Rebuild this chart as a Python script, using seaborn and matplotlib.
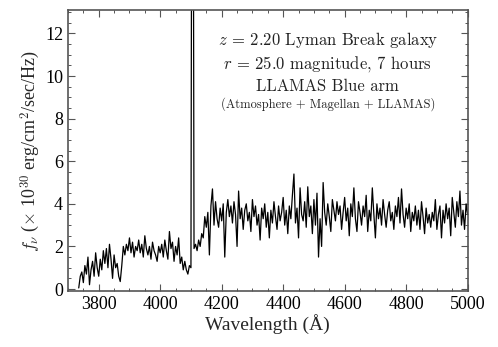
import numpy as np
import pandas as pd
import matplotlib
matplotlib.use("Agg")
import matplotlib.pyplot as plt
from matplotlib.ticker import MultipleLocator
import seaborn as sns

# Wavelength grid (Angstrom): start and sampling step of the spectrum
WAVE_START = 3735
WAVE_STEP = 5

# Flux values (x 10^30 erg/cm^2/sec/Hz), one row per 50 A
flux = [
    0.05, 0.6, 0.8, 0.3, 1.1, 0.7, 1.5, 0.2, 0.9, 1.3,
    0.6, 1.7, 1.0, 0.6, 1.4, 0.9, 1.8, 1.2, 1.9, 1.0,
    2.1, 1.4, 0.5, 1.6, 1.0, 1.2, 0.6, 0.35, 1.1, 2.0,
    1.6, 2.1, 1.8, 2.4, 1.7, 2.2, 1.5, 2.0, 1.8, 2.3,
    1.7, 2.1, 1.5, 2.5, 1.9, 1.6, 2.0, 1.4, 2.2, 1.8,
    1.6, 1.3, 2.0, 1.7, 2.1, 1.5, 2.3, 1.8, 1.4, 2.7,
    1.9, 2.2, 1.3, 2.0, 1.6, 2.4, 1.2, 1.5, 0.9, 1.3,
    0.9, 0.7, 1.1, 1.0, 40.0, 1.9, 2.1, 1.8, 2.3, 2.0,
    2.6, 2.4, 3.4, 2.9, 3.6, 1.6, 3.9, 4.7, 3.0, 4.1,
    3.3, 2.9, 3.8, 3.2, 4.0, 1.5, 3.6, 4.2, 3.4, 3.9,
    3.1, 4.1, 3.5, 2.0, 4.6, 3.3, 3.8, 2.8, 3.7, 4.0,
    3.2, 3.6, 2.7, 4.2, 3.4, 3.9, 3.0, 3.5, 2.3, 3.8,
    3.3, 4.0, 2.9, 3.6, 2.4, 3.7, 3.1, 4.1, 3.4, 2.8,
    3.9, 3.2, 3.6, 4.3, 3.0, 3.7, 2.6, 3.9, 3.3, 4.4,
    5.4, 3.1, 3.8, 2.4, 4.75, 3.5, 3.2, 4.1, 2.9, 4.8,
    3.4, 3.9, 2.6, 4.2, 3.0, 4.5, 1.5, 3.3, 2.0, 5.0,
    3.6, 3.0, 4.0, 3.4, 2.7, 4.2, 3.7, 3.2, 4.1, 3.5,
    3.9, 2.8, 3.6, 4.3, 3.2, 3.8, 2.5, 4.0, 3.4, 4.75,
    3.3, 2.7, 4.1, 3.6, 3.0, 3.9, 3.4, 4.4, 2.7, 3.7,
    3.2, 4.75, 3.5, 2.4, 4.0, 3.3, 3.8, 3.0, 4.2, 3.5,
    2.9, 3.7, 4.1, 3.2, 3.6, 2.8, 3.9, 3.4, 4.3, 3.1,
    4.7, 3.5, 2.9, 3.8, 3.3, 4.0, 2.7, 3.6, 3.2, 3.9,
    3.0, 3.7, 2.8, 4.1, 3.4, 2.6, 3.8, 3.1, 3.5, 2.9,
    3.6, 3.2, 4.2, 2.8, 3.5, 3.9, 2.4, 3.7, 3.1, 4.0,
    3.3, 3.8, 2.5, 4.3, 3.6, 2.9, 4.1, 3.4, 4.6, 3.0,
    3.7, 2.8, 4.0, 3.5,
]

labels = [
    r"$z$ = 2.20 Lyman Break galaxy",
    r"$r$ = 25.0 magnitude, 7 hours",
    "LLAMAS Blue arm",
    "(Atmosphere + Magellan + LLAMAS)",
]

wave = WAVE_START + WAVE_STEP * np.arange(len(flux))
df = pd.DataFrame({"wave": wave, "flux": flux})

sns.set_style("ticks")
plt.rcParams["font.family"] = ["Liberation Serif", "DejaVu Serif"]
plt.rcParams["mathtext.fontset"] = "cm"

edge = "#555555"
fig = plt.figure(figsize=(4.98, 3.47), dpi=100)
ax = fig.add_axes([0.1365, 0.161, 0.8025, 0.81])

sns.lineplot(data=df, x="wave", y="flux", ax=ax, color="black",
             linewidth=0.9, estimator=None)

ax.set_xlim(3700, 5000)
ax.set_ylim(-0.1, 13.1)
ax.xaxis.set_major_locator(MultipleLocator(200))
ax.xaxis.set_minor_locator(MultipleLocator(50))
ax.yaxis.set_major_locator(MultipleLocator(2))
ax.yaxis.set_minor_locator(MultipleLocator(0.5))
ax.tick_params(which="both", direction="in", top=True, right=True,
               color=edge, labelsize=13, labelcolor="black")
ax.tick_params(which="major", length=5, width=0.8)
ax.tick_params(which="minor", length=2.5, width=0.7)
for s in ax.spines.values():
    s.set_color(edge)
    s.set_linewidth(1.2)

ax.set_xlabel("Wavelength (Å)", fontsize=14, labelpad=1)
ax.set_ylabel(r"$f_\nu$ ($\times$ 10$^{30}$ erg/cm$^2$/sec/Hz)",
              fontsize=13, labelpad=2)

# annotation block
ypos = [0.893, 0.808, 0.73, 0.665]
sizes = [12, 12, 12, 9]
for txt, yy, fs in zip(labels, ypos, sizes):
    ax.text(0.65, yy, txt, transform=ax.transAxes, ha="center", va="center",
            fontsize=fs, family="cmr10", color="#222222")

fig.savefig("out.png", dpi=100)
